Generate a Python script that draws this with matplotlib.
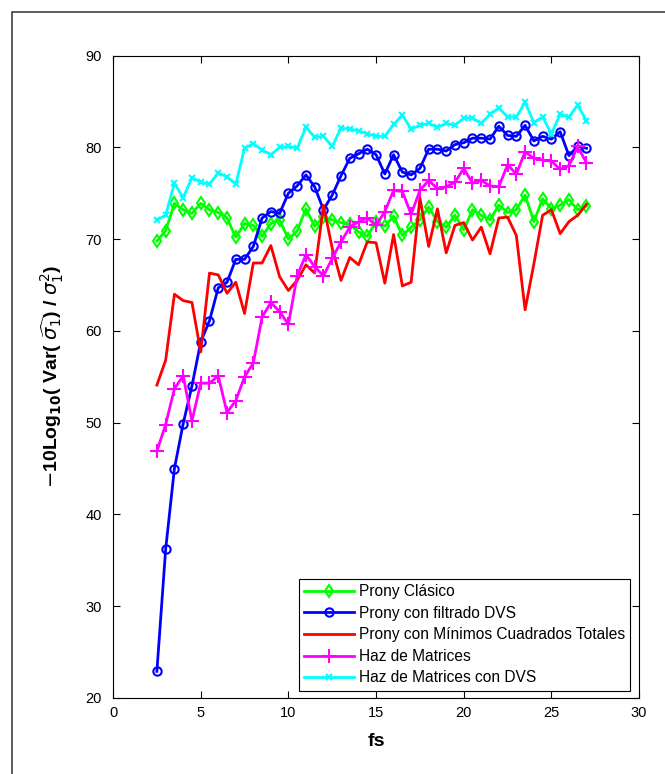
import numpy as np
import matplotlib.pyplot as plt
from matplotlib.patches import Rectangle

plt.rcParams['font.family'] = ['Liberation Sans', 'DejaVu Sans']
plt.rcParams['mathtext.fontset'] = 'dejavusans'

fs = np.arange(2.5, 27.01, 0.5)  # 50 puntos

prony_clasico = [69.8, 70.9, 73.9, 73.2, 72.8, 73.9, 73.2, 72.9, 72.3, 70.2,
                 71.7, 71.5, 70.3, 71.7, 72.1, 70.0, 70.9, 73.3, 71.4, 72.4,
                 72.1, 71.8, 71.6, 70.8, 70.3, 71.9, 71.4, 72.5, 70.4, 71.3,
                 72.1, 73.5, 71.9, 71.3, 72.6, 71.0, 73.2, 72.6, 72.1, 73.7,
                 72.9, 73.2, 74.8, 71.9, 74.4, 73.3, 73.7, 74.3, 73.2, 73.6]
prony_dvs = [22.9, 36.2, 45.0, 49.9, 54.0, 58.8, 61.1, 64.7, 65.3, 67.8,
             67.8, 69.2, 72.3, 73.0, 72.8, 75.0, 75.8, 77.0, 75.7, 73.2,
             74.8, 76.9, 78.8, 79.3, 79.8, 79.2, 77.1, 79.2, 77.3, 77.0,
             77.7, 79.8, 79.8, 79.6, 80.3, 80.5, 81.0, 81.0, 80.9, 82.3,
             81.3, 81.2, 82.4, 80.7, 81.2, 80.9, 81.7, 79.1, 80.1, 79.9]
prony_mct = [54.1, 56.8, 64.0, 63.3, 63.1, 57.7, 66.3, 66.1, 64.1, 65.3,
             61.9, 67.4, 67.4, 69.3, 65.9, 64.4, 65.5, 67.2, 66.3, 73.7,
             69.0, 65.5, 68.0, 67.2, 69.7, 69.6, 65.2, 70.5, 64.9, 65.3,
             74.5, 69.2, 73.3, 68.5, 71.5, 71.8, 69.9, 71.3, 68.4, 72.3,
             72.4, 70.4, 62.3, 67.3, 72.6, 73.2, 70.6, 71.9, 72.6, 73.8]
haz = [46.9, 49.8, 53.7, 55.1, 50.2, 54.3, 54.3, 55.1, 51.1, 52.4,
       55.0, 56.5, 61.5, 63.1, 62.1, 60.7, 66.0, 68.3, 67.0, 66.0,
       67.9, 69.7, 71.3, 71.9, 72.3, 71.5, 73.0, 75.3, 75.2, 72.7,
       75.3, 76.4, 75.5, 75.7, 76.2, 77.7, 76.1, 76.4, 75.8, 75.7,
       78.1, 77.1, 79.5, 78.8, 78.6, 78.5, 77.6, 78.0, 80.1, 78.3]
haz_dvs = [72.1, 72.6, 76.1, 74.5, 76.7, 76.2, 76.0, 77.2, 76.8, 76.0,
           79.9, 80.4, 79.7, 79.2, 80.0, 80.1, 79.9, 82.2, 81.1, 81.2,
           80.1, 82.1, 82.0, 81.8, 81.5, 81.2, 81.2, 82.5, 83.5, 82.0,
           82.4, 82.6, 82.2, 82.6, 82.4, 83.2, 83.2, 82.6, 83.6, 84.3,
           83.3, 83.3, 84.9, 82.7, 83.3, 81.5, 83.6, 83.3, 84.6, 82.9]

fig = plt.figure(figsize=(6.65, 7.74), dpi=100)
# marco exterior de la figura
fig.patches.append(Rectangle((12/665, -0.05), 1.2, 1.05 - 12/774, transform=fig.transFigure,
                             fill=False, edgecolor='#404040', linewidth=1.2))
ax = fig.add_axes([0.170, 0.0982, 0.791, 0.830])

ax.plot(fs, prony_clasico, color=(0, 1, 0), lw=2, marker='d', ms=6, mfc='none', mew=1.5,
        label='Prony Clásico')
ax.plot(fs, prony_dvs, color=(0, 0, 1), lw=2, marker='o', ms=6, mfc='none', mew=1.5,
        label='Prony con filtrado DVS')
ax.plot(fs, prony_mct, color=(1, 0, 0), lw=2,
        label='Prony con Mínimos Cuadrados Totales')
ax.plot(fs, haz, color=(1, 0, 1), lw=2, marker='+', ms=10, mew=1.5,
        label='Haz de Matrices')
ax.plot(fs, haz_dvs, color=(0, 1, 1), lw=2, marker='x', ms=5, mew=1.5,
        label='Haz de Matrices con DVS')

ax.set_xlim(0, 30)
ax.set_ylim(20, 90)
ax.set_xticks(range(0, 31, 5))
ax.set_yticks(range(20, 91, 10))
ax.tick_params(direction='in', top=True, right=True, length=5, labelsize=10.5,
               width=0.8, pad=6)
ax.tick_params(axis='y', pad=8)
for s in ax.spines.values():
    s.set_linewidth(0.8)

ax.set_xlabel('fs', fontsize=14, fontweight='bold', labelpad=9)
ax.set_ylabel(r'$-$10Log$_{\mathbf{10}}$( Var( $\widehat{\sigma_1}$) / $\sigma_1^2$)',
              fontsize=14, fontweight='bold', labelpad=14)

leg = ax.legend(loc='lower right', bbox_to_anchor=(0.983, 0.011), borderaxespad=0,
                numpoints=1, fontsize=11.2, fancybox=False, framealpha=1,
                edgecolor='black', handlelength=3.2, handletextpad=0.3,
                labelspacing=0.42, borderpad=0.35)
leg.get_frame().set_linewidth(0.8)

plt.savefig('out.png', dpi=100)
